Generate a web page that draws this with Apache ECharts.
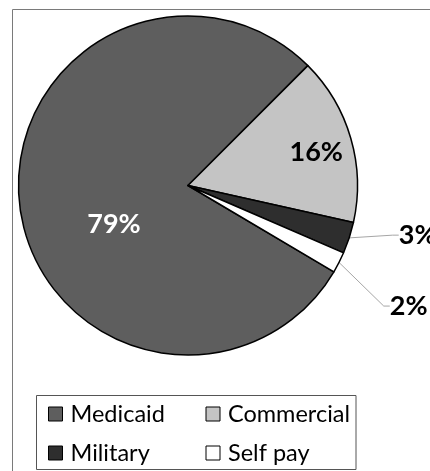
<!DOCTYPE html>
<html><head><meta charset="utf-8">
<script src="https://cdn.jsdelivr.net/npm/echarts@6/dist/echarts.min.js"></script>
<style>html,body{margin:0;padding:0;background:#fff}#c{width:430px;height:471px}</style>
</head><body><div id="c"></div>
<script>
const categories = ['Medicaid', 'Commercial', 'Military', 'Self pay'];
const values = [79, 16, 3, 2];
const colors = ['#5e5e5e', '#c4c4c4', '#2e2e2e', '#ffffff'];

const chart = echarts.init(document.getElementById('c'), null, {renderer: 'canvas'});
const FONT = 'Lato';
const labelCfg = [
  {show: true, position: 'inside', color: '#fff', offset: [13, 28]},
  {show: true, position: 'inside', color: '#000', offset: [44, -9]},
  {show: true, position: 'outside', color: '#000', padding: [0, 0, 16, 0]},
  {show: true, position: 'outside', color: '#000', padding: [0, 0, 16, 0]}
];
const labelShift = {2: [10, -12], 3: [13, 30]};
const data = categories.map((n, i) => ({
  name: n, value: values[i],
  itemStyle: {color: colors[i]},
  label: labelCfg[i]
}));
chart.setOption({
  animation: false,
  backgroundColor: '#fff',
  graphic: [
    {type: 'rect', shape: {x: 12.5, y: 9.5, width: 500, height: 500}, style: {fill: 'none', stroke: '#7a7a7a', lineWidth: 1}, z: -1},
    {type: 'rect', shape: {x: 36.5, y: 395.5, width: 319.5, height: 74}, style: {fill: 'none', stroke: '#555', lineWidth: 1}, z: 10}
  ],
  legend: {
    data: categories,
    left: 48, top: 402, width: 320,
    padding: 0,
    orient: 'horizontal',
    itemWidth: 14, itemHeight: 14, itemGap: 15,
    icon: 'rect',
    itemStyle: {borderColor: '#000', borderWidth: 1},
    textStyle: {fontFamily: FONT, fontSize: 23.5, color: '#000', width: 120, padding: [0, 0, 0, 3], lineHeight: 24}
  },
  series: [{
    type: 'pie',
    center: [188, 185.5],
    radius: [0, 169.5],
    startAngle: -30.6,
    clockwise: true,
    avoidLabelOverlap: false,
    itemStyle: {borderColor: '#000', borderWidth: 1.5},
    label: {formatter: '{c}%', fontFamily: FONT, fontWeight: 'bold', fontSize: 27},
    labelLine: {show: true, length: 30, length2: 6, lineStyle: {color: '#a6a6a6', width: 1}},
    labelLayout: function (p) {
      const s = labelShift[p.dataIndex];
      if (!s) return {};
      return {x: p.labelRect.x + s[0], y: p.labelRect.y + p.labelRect.height / 2 + s[1], align: 'left', verticalAlign: 'middle'};
    },
    emphasis: {disabled: true},
    data: data
  }]
});
</script></body></html>
